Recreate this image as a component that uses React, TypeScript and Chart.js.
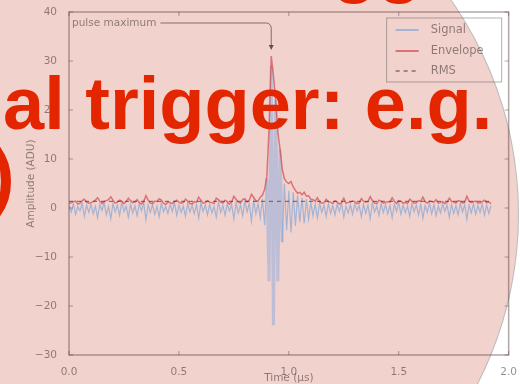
import React, { useEffect, useRef } from "react";
import { Chart, registerables } from "chart.js";

Chart.register(...registerables);

// Digitiser samples, 10 ns apart (times in µs)
const SAMPLE_STEP_US = 0.01;

// Raw waveform, ADU
const signalValues = [
  0.5, -0.8, 0.9, -1.3, 0.3, -0.6, 1.0, -1.7, 0.6, -0.9,
  0.8, -1.2, 0.4, -2.0, 0.7, -0.5, 1.1, -1.4, 0.3, -2.2,
  0.9, -0.8, 0.6, -1.5, 1.2, -0.7, 0.4, -1.9, 0.8, -1.0,
  0.5, -1.6, 0.9, -0.6, 1.0, -2.4, 0.6, -0.9, 0.7, -1.3,
  0.4, -1.8, 1.0, -0.8, 0.3, -1.1, 0.8, -0.7, 1.1, -1.5,
  0.6, -0.9, 0.4, -1.7, 0.9, -0.8, 0.5, -1.2, 0.7, -2.1,
  1.0, -0.7, 0.6, -1.4, 0.8, -1.0, 0.3, -1.9, 1.2, -0.9,
  0.5, -1.5, 0.9, -0.6, 0.7, -2.3, 1.1, -1.0, 0.6, -1.6,
  1.4, -0.8, 1.0, -2.7, 1.6, -1.2, 0.9, -2.0, 1.9, -3.5,
  6.0, -15.0, 29.0, -24.0, 22.0, -15.0, 12.0, -7.0, 5.0, -4.5,
  3.5, -5.0, 3.2, -3.6, 2.6, -2.9, 2.1, -3.1, 1.8, -2.3,
  1.2, -1.6, 0.8, -2.0, 1.0, -0.9, 0.6, -1.7, 0.9, -1.1,
  0.5, -1.4, 0.8, -0.7, 1.0, -1.9, 0.4, -1.0, 0.7, -1.3,
  0.9, -0.6, 0.5, -1.8, 0.8, -1.1, 0.6, -2.2, 1.0, -0.8,
  0.4, -1.5, 0.9, -0.9, 0.7, -1.2, 0.5, -2.0, 0.8, -0.7,
  1.1, -1.3, 0.6, -1.0, 0.4, -1.7, 0.9, -0.8, 0.6, -1.4,
  0.8, -2.1, 0.5, -0.9, 1.0, -1.2, 0.7, -1.6, 0.4, -1.0,
  0.9, -0.7, 0.6, -1.9, 0.8, -1.1, 0.5, -1.4, 1.0, -0.8,
  0.7, -2.3, 0.6, -1.0, 0.9, -1.3, 0.5, -0.9, 0.8, -1.5,
  0.6, -1.1, 0.5,
];

// Hilbert envelope of the waveform, ADU
const envelopeValues = [
  0.9, 1.1, 1.3, 1.4, 0.8, 1.0, 1.5, 1.8, 1.2, 1.0,
  1.1, 1.3, 1.6, 2.1, 1.4, 0.9, 1.3, 1.5, 1.7, 2.3,
  1.6, 1.0, 1.2, 1.6, 1.4, 0.9, 1.3, 2.0, 1.5, 1.1,
  1.2, 1.7, 1.1, 0.8, 1.3, 2.5, 1.6, 1.0, 0.9, 1.4,
  1.3, 1.9, 1.6, 1.0, 0.7, 1.2, 1.1, 0.9, 1.3, 1.6,
  1.2, 1.0, 1.1, 1.8, 1.4, 0.9, 0.8, 1.3, 1.2, 2.2,
  1.6, 1.0, 1.1, 1.5, 1.2, 1.1, 0.9, 2.0, 1.7, 1.2,
  1.0, 1.6, 1.3, 0.8, 1.2, 2.4, 1.8, 1.2, 1.0, 1.7,
  1.9, 1.2, 1.6, 2.8, 2.2, 1.5, 1.4, 2.2, 2.6, 3.8,
  6.5, 16.0, 31.0, 27.0, 22.0, 15.5, 12.0, 8.0, 6.0, 5.3,
  5.0, 5.4, 4.3, 3.6, 3.0, 3.2, 2.7, 3.2, 2.4, 2.5,
  1.8, 1.7, 1.4, 2.1, 1.3, 1.0, 1.1, 1.8, 1.3, 1.2,
  0.9, 1.5, 1.2, 0.8, 1.1, 2.0, 1.0, 1.1, 1.2, 1.4,
  1.3, 0.9, 1.0, 1.9, 1.4, 1.2, 1.3, 2.3, 1.5, 1.0,
  0.9, 1.6, 1.4, 1.0, 1.1, 1.3, 1.2, 2.1, 1.4, 0.9,
  1.5, 1.4, 1.0, 1.1, 0.9, 1.8, 1.4, 1.0, 1.1, 1.5,
  1.4, 2.2, 1.3, 1.0, 1.4, 1.3, 1.2, 1.7, 1.0, 1.1,
  1.3, 0.9, 1.2, 2.0, 1.4, 1.2, 1.0, 1.5, 1.4, 1.0,
  1.2, 2.4, 1.4, 1.1, 1.3, 1.4, 1.0, 1.0, 1.3, 1.6,
  1.1, 1.2, 0.9,
];

// Noise RMS of the trace, ADU
const rmsLevel = 1.35;

const xTickValues = [0, 0.5, 1.0, 1.5, 2.0];
const yTickValues = [-30, -20, -10, 0, 10, 20, 30, 40];
const seriesLabels = ["Signal", "Envelope", "RMS"];
const annotationText = "pulse maximum";
const xTitle = "Time (\u03bcs)";
const yTitle = "Amplitude (ADU)";

const FONT = "'DejaVu Sans', sans-serif";
const TEXT = "rgba(40,30,30,0.5)";
const SPINE = "rgba(80,60,60,0.45)";
const SIGNAL = "rgba(130,165,215,0.7)";
const SIGNAL_BURST = "rgba(175,185,215,0.8)";
const ENVELOPE = "rgba(205,50,60,0.6)";
const RMS = "rgba(50,50,50,0.6)";

const decorPlugin = {
  id: "decor",
  afterDatasetsDraw(chart: any) {
    const { ctx, chartArea: a, scales } = chart;
    const xs = scales.x;
    const ys = scales.y;
    ctx.save();

    // boxed frame
    ctx.strokeStyle = SPINE;
    ctx.lineWidth = 1.5;
    ctx.strokeRect(a.left, a.top, a.right - a.left, a.bottom - a.top);

    // inward ticks on all four sides
    ctx.lineWidth = 1;
    ctx.beginPath();
    for (const t of xs.ticks) {
      const px = xs.getPixelForValue(t.value);
      ctx.moveTo(px, a.bottom);
      ctx.lineTo(px, a.bottom - 4);
      ctx.moveTo(px, a.top);
      ctx.lineTo(px, a.top + 4);
    }
    for (const t of ys.ticks) {
      const py = ys.getPixelForValue(t.value);
      ctx.moveTo(a.left, py);
      ctx.lineTo(a.left + 4, py);
      ctx.moveTo(a.right, py);
      ctx.lineTo(a.right - 4, py);
    }
    ctx.stroke();

    // axis titles
    ctx.fillStyle = TEXT;
    ctx.font = `10.5px ${FONT}`;
    ctx.textAlign = "center";
    ctx.textBaseline = "middle";
    ctx.fillText(xTitle, (a.left + a.right) / 2, 378);
    ctx.save();
    ctx.translate(31, (a.top + a.bottom) / 2);
    ctx.rotate(-Math.PI / 2);
    ctx.fillText(yTitle, 0, 0);
    ctx.restore();

    // annotation pointing at the envelope maximum
    let peakIdx = 0;
    envelopeValues.forEach((v, i) => {
      if (v > envelopeValues[peakIdx]) peakIdx = i;
    });
    const px = xs.getPixelForValue(peakIdx * SAMPLE_STEP_US);
    const py = ys.getPixelForValue(envelopeValues[peakIdx]);
    const ty = a.top + 11;
    const tx = a.left + 3;
    ctx.textAlign = "left";
    ctx.font = `10.5px ${FONT}`;
    ctx.fillText(annotationText, tx, ty);
    const tw = ctx.measureText(annotationText).width;
    const r = 5;
    const tipY = py - 6;
    ctx.strokeStyle = "rgba(40,30,30,0.55)";
    ctx.lineWidth = 1;
    ctx.beginPath();
    ctx.moveTo(tx + tw + 4, ty);
    ctx.lineTo(px - r, ty);
    ctx.arcTo(px, ty, px, ty + r, r);
    ctx.lineTo(px, tipY - 4);
    ctx.stroke();
    ctx.fillStyle = "rgba(40,30,30,0.7)";
    ctx.beginPath();
    ctx.moveTo(px - 2.5, tipY - 5);
    ctx.lineTo(px + 2.5, tipY - 5);
    ctx.lineTo(px, tipY);
    ctx.closePath();
    ctx.fill();

    // legend
    const lx0 = a.right - 122;
    const lx1 = a.right - 7;
    const ly0 = a.top + 6;
    const ly1 = a.top + 70;
    ctx.strokeStyle = "rgba(80,80,80,0.45)";
    ctx.lineWidth = 1;
    ctx.strokeRect(lx0, ly0, lx1 - lx0, ly1 - ly0);
    const rows = [ly0 + 12, ly0 + 33, ly0 + 53];
    const styles = [
      { c: SIGNAL, dash: [] as number[], w: 2 },
      { c: ENVELOPE, dash: [] as number[], w: 2 },
      { c: RMS, dash: [4, 4], w: 1.3 },
    ];
    ctx.font = `11.5px ${FONT}`;
    ctx.textBaseline = "middle";
    seriesLabels.forEach((label, i) => {
      const s = styles[i];
      ctx.strokeStyle = s.c;
      ctx.lineWidth = s.w;
      ctx.setLineDash(s.dash);
      ctx.beginPath();
      ctx.moveTo(lx0 + 9, rows[i]);
      ctx.lineTo(lx0 + 32, rows[i]);
      ctx.stroke();
      ctx.setLineDash([]);
      ctx.fillStyle = TEXT;
      ctx.fillText(label, lx0 + 44, rows[i]);
    });

    ctx.restore();
  },
};

const redStyle = (left: number, top: number): React.CSSProperties => ({
  position: "absolute",
  left,
  top,
  margin: 0,
  whiteSpace: "nowrap",
  fontFamily: "'Liberation Sans', Arial, sans-serif",
  fontWeight: 700,
  fontSize: 74,
  lineHeight: "74px",
  color: "#e32500",
});

// wide swings of the burst are drawn as a broader, paler band
const isBurst = (c: any) =>
  Math.abs(c.p0.parsed.y) > 8 || Math.abs(c.p1.parsed.y) > 8;

export default function App() {
  const ref = useRef<HTMLCanvasElement>(null);

  useEffect(() => {
    if (!ref.current) return;
    const times = signalValues.map((_, i) => i * SAMPLE_STEP_US);
    const lastT = times[times.length - 1];
    const chart = new Chart(ref.current, {
      type: "line",
      data: {
        datasets: [
          {
            label: seriesLabels[0],
            data: signalValues.map((v, i) => ({ x: times[i], y: v })),
            borderColor: SIGNAL,
            borderWidth: 1.2,
            pointRadius: 0,
            tension: 0,
            order: 3,
            segment: {
              borderWidth: (c: any) => (isBurst(c) ? 3 : 1.2),
              borderColor: (c: any) => (isBurst(c) ? SIGNAL_BURST : SIGNAL),
            },
          },
          {
            label: seriesLabels[1],
            data: envelopeValues.map((v, i) => ({ x: times[i], y: v })),
            borderColor: ENVELOPE,
            borderWidth: 1.5,
            pointRadius: 0,
            tension: 0,
            order: 2,
          },
          {
            label: seriesLabels[2],
            data: [
              { x: 0, y: rmsLevel },
              { x: lastT, y: rmsLevel },
            ],
            borderColor: RMS,
            borderWidth: 1.2,
            borderDash: [4, 4],
            pointRadius: 0,
            order: 1,
          },
        ],
      },
      options: {
        responsive: false,
        animation: false,
        devicePixelRatio: 1,
        layout: { padding: { top: 12, right: 10, left: 0, bottom: 0 } },
        plugins: {
          legend: { display: false },
          tooltip: { enabled: false },
        },
        scales: {
          x: {
            type: "linear",
            min: 0,
            max: 2,
            afterBuildTicks: (s: any) => {
              s.ticks = xTickValues.map((v) => ({ value: v }));
            },
            afterFit: (s: any) => {
              s.height = 29;
            },
            grid: { display: false },
            border: { display: false },
            ticks: {
              callback: (v: any) => Number(v).toFixed(1),
              font: { size: 10.5, family: FONT },
              color: TEXT,
              padding: 3,
              maxRotation: 0,
              autoSkip: false,
            },
          },
          y: {
            type: "linear",
            min: -30,
            max: 40,
            afterBuildTicks: (s: any) => {
              s.ticks = yTickValues.map((v) => ({ value: v }));
            },
            afterFit: (s: any) => {
              s.width = 69;
            },
            grid: { display: false },
            border: { display: false },
            ticks: {
              callback: (v: any) =>
                Number(v) < 0 ? "\u2212" + Math.abs(Number(v)) : String(v),
              font: { size: 10.5, family: FONT },
              color: TEXT,
              padding: 4,
              autoSkip: false,
            },
          },
        },
      },
      plugins: [decorPlugin],
    } as any);
    return () => chart.destroy();
  }, []);

  return (
    <div
      style={{
        position: "fixed",
        left: 0,
        top: 0,
        width: 520,
        height: 384,
        overflow: "hidden",
        background: "#ffffff",
      }}
    >
      <div
        style={{
          position: "absolute",
          left: 146 - 372,
          top: 214 - 372,
          width: 744,
          height: 744,
          borderRadius: "50%",
          background: "#f2d2cd",
          boxShadow: "0 0 0 1px rgba(120,120,120,0.5)",
        }}
      />
      <canvas
        ref={ref}
        width={520}
        height={384}
        style={{ position: "absolute", left: 0, top: 0 }}
      />
      <div style={redStyle(332, -73)}>gg</div>
      <div style={redStyle(3, 67)}>al trigger: e.g.</div>
      <div style={redStyle(-10, 139)}>)</div>
    </div>
  );
}
